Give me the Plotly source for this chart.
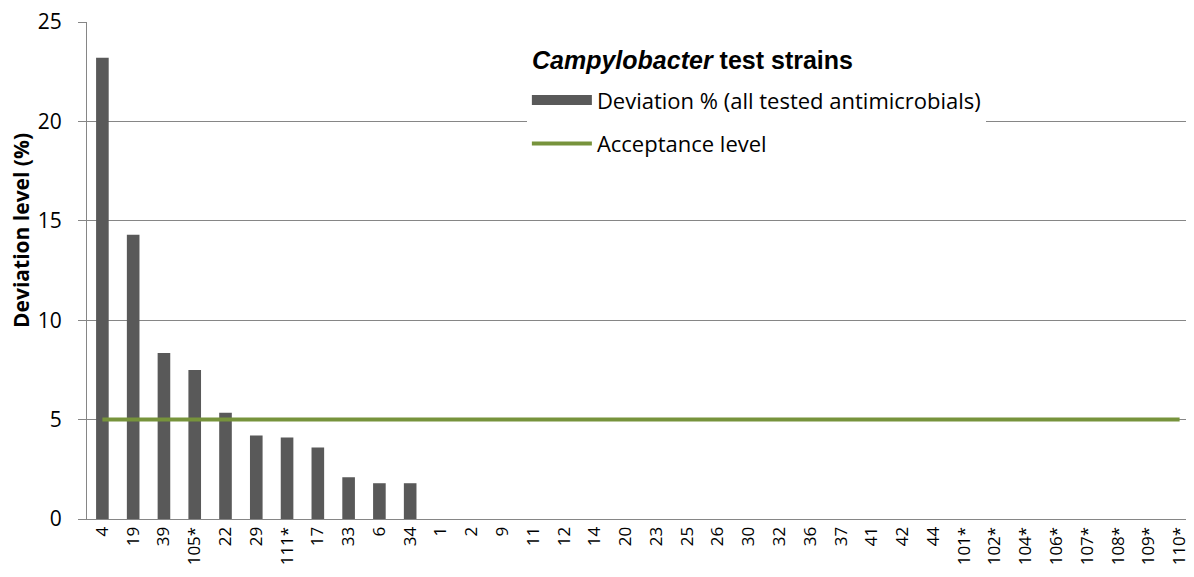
import plotly.graph_objects as go

strains = [
    "4", "19", "39", "105*", "22", "29", "111*", "17", "33", "6", "34",
    "1", "2", "9", "11", "12", "14", "20", "23", "25", "26", "30", "32",
    "36", "37", "41", "42", "44", "101*", "102*", "104*", "106*", "107*",
    "108*", "109*", "110*",
]
deviation = [
    23.2, 14.3, 8.35, 7.5, 5.35, 4.2, 4.1, 3.6, 2.1, 1.8, 1.8,
    0, 0, 0, 0, 0, 0, 0, 0, 0, 0, 0, 0,
    0, 0, 0, 0, 0, 0, 0, 0, 0, 0,
    0, 0, 0,
]
acceptance = [5] * len(strains)

BAR_GREY = "#595959"
GREEN = "#77933C"
AXIS_GREY = "#868686"

fig = go.Figure()

fig.add_trace(
    go.Bar(
        x=strains,
        y=deviation,
        marker=dict(color=BAR_GREY, line=dict(width=0)),
        width=0.41,
        showlegend=False,
    )
)

# legend proxy so the bar key is drawn as a wide block, like Excel does
fig.add_trace(
    go.Scatter(
        x=[None],
        y=[None],
        mode="lines",
        name="Deviation % (all tested antimicrobials)",
        legendgroup="dev",
        line=dict(color=BAR_GREY, width=13),
    )
)

fig.add_trace(
    go.Scatter(
        x=strains,
        y=acceptance,
        mode="lines",
        name="Acceptance level",
        legendgroup="acc",
        line=dict(color=GREEN, width=4),
    )
)

fig.update_layout(
    width=1194,
    height=577,
    margin=dict(l=79, r=7, t=14, b=66),
    plot_bgcolor="white",
    paper_bgcolor="white",
    font=dict(family="Open Sans, sans-serif", color="black"),
    showlegend=True,
    legend=dict(
        x=0.397,
        y=0.885,
        xanchor="left",
        yanchor="top",
        bgcolor="white",
        font=dict(size=22),
        itemwidth=60,
        traceorder="grouped",
        tracegroupgap=12,
    ),
    annotations=[
        dict(
            text="<b><i>Campylobacter</i> test strains</b>",
            xref="paper", yref="paper",
            x=0.3998, y=0.9235,
            xanchor="left", yanchor="middle",
            showarrow=False,
            font=dict(family="Liberation Sans, Arial, sans-serif", size=25),
        ),
        dict(
            text="<b>Deviation level (%)</b>",
            xref="paper", yref="paper",
            x=-0.0596, y=0.5815,
            xanchor="center", yanchor="middle",
            textangle=-90,
            showarrow=False,
            font=dict(size=21),
        ),
    ],
)

fig.update_xaxes(
    type="category",
    range=[-0.5, len(strains) - 0.5],
    tickangle=-90,
    tickfont=dict(size=17),
    showline=True,
    linecolor=AXIS_GREY,
    linewidth=1,
    showgrid=False,
    ticks="",
    automargin=False,
)

fig.update_yaxes(
    range=[0, 25],
    dtick=5,
    tickfont=dict(size=21),
    ticklabeloverflow="allow",
    ticklabelstandoff=12,
    showline=True,
    linecolor=AXIS_GREY,
    linewidth=1,
    showgrid=True,
    gridcolor=AXIS_GREY,
    gridwidth=1,
    ticks="outside",
    ticklen=8,
    tickcolor=AXIS_GREY,
    zeroline=False,
    automargin=False,
)

fig.write_html("out.html")
